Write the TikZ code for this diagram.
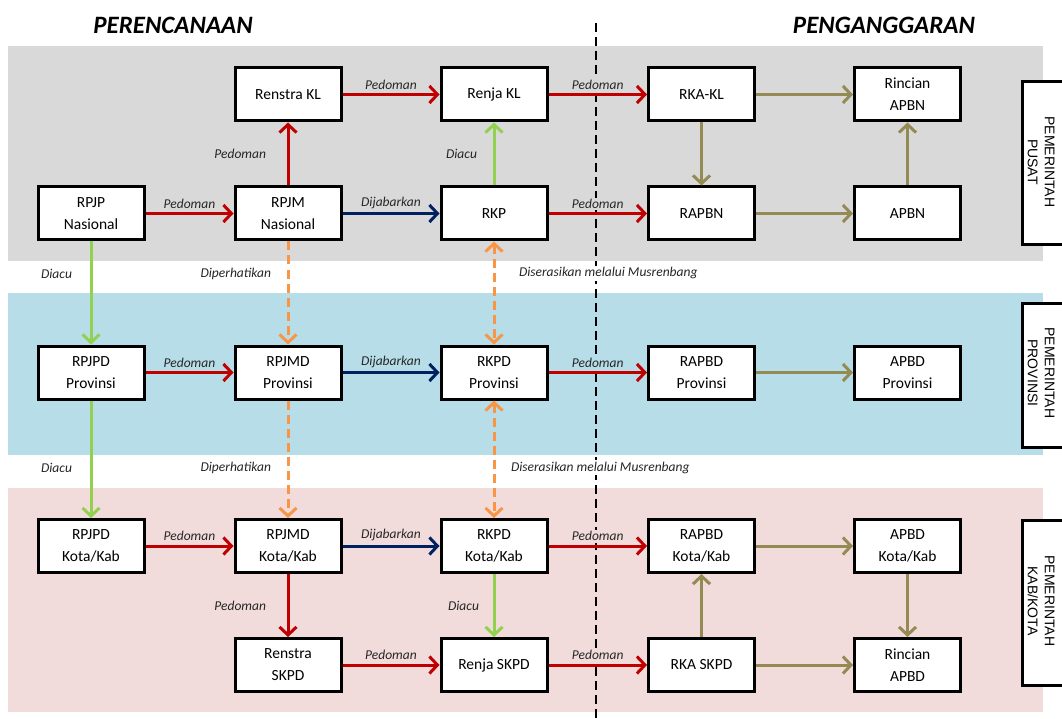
\documentclass[tikz,border=0pt]{standalone}
\usepackage{fontspec}
\setmainfont{Carlito}
\newfontfamily\arialfont{Liberation Sans}
\usetikzlibrary{arrows.meta,positioning}
\definecolor{bandgray}{RGB}{217,217,217}
\definecolor{bandblue}{RGB}{183,222,232}
\definecolor{bandpink}{RGB}{242,220,219}
\definecolor{redarrow}{RGB}{192,0,0}
\definecolor{navyarrow}{RGB}{0,32,96}
\definecolor{greenarrow}{RGB}{146,208,80}
\definecolor{orangearrow}{RGB}{247,150,70}
\definecolor{olivearrow}{RGB}{148,138,84}
\begin{document}
\begin{tikzpicture}[x=1pt,y=-1pt,
  box/.style={draw=black,line width=3pt,fill=white,minimum width=106pt,minimum height=53pt,
    align=center,inner sep=0pt,font=\fontsize{15.5}{22}\selectfont},
  lbl/.style={font=\fontsize{13.5}{16}\selectfont\itshape,inner sep=1.5pt,text=black!85},
  tip/.style={-{Straight Barb[length=8pt,width=17pt]}},
  pedoman/.style={tip,line width=3pt,draw=redarrow},
  jabar/.style={tip,line width=3pt,draw=navyarrow},
  diacu/.style={tip,line width=3pt,draw=greenarrow},
  olive/.style={tip,line width=3pt,draw=olivearrow},
  perhati/.style={tip,line width=3pt,draw=orangearrow,dash pattern=on 9pt off 5pt},
  serasi/.style={perhati,{Straight Barb[length=8pt,width=17pt]}-{Straight Barb[length=8pt,width=17pt]}},
  sidebox/.style={draw=black,line width=3pt,fill=white},
  sidetext/.style={rotate=-90,align=center,font=\arialfont\fontsize{14}{17}\selectfont}]
\useasboundingbox (0,0) rectangle (1062,719);

%Bands
\fill[bandgray] (8,46) rectangle (1043,261);
\fill[bandblue] (8,293) rectangle (1043,455);
\fill[bandpink] (8,488) rectangle (1043,712);

%Divider
\draw[line width=2pt,dash pattern=on 9pt off 5pt] (596,23) -- (596,719);

% Titles
\node (perencanaan) at (173,25) {\fontsize{25}{30}\selectfont\bfseries\itshape PERENCANAAN};
\node (penganggaran) at (884,25) {\fontsize{25}{30}\selectfont\bfseries\itshape PENGANGGARAN};

% Side labels
\draw[sidebox] (1022,82) rectangle (1080,245);
\node[sidetext] (pusat) at (1041,162) {PEMERINTAH\\PUSAT};
\draw[sidebox] (1022,303) rectangle (1080,447);
\node[sidetext] (prov) at (1041,373) {PEMERINTAH\\PROVINSI};
\draw[sidebox] (1022,520) rectangle (1080,685);
\node[sidetext] (kab) at (1041,601) {PEMERINTAH\\KAB/KOTA};

% Pusat
\node[box] (renstrakl) at (288,94.5) {Renstra KL};
\node[box] (renjakl) at (494,94.5) {Renja KL};
\node[box] (rkakl) at (701.5,94.5) {RKA-KL};
\node[box] (rincianapbn) at (907.5,94.5) {Rincian\\APBN};
\node[box] (rpjp) at (91,213.5) {RPJP\\Nasional};
\node[box] (rpjm) at (288,213.5) {RPJM\\Nasional};
\node[box] (rkp) at (494,213.5) {RKP};
\node[box] (rapbn) at (701.5,213.5) {RAPBN};
\node[box] (apbn) at (907.5,213.5) {APBN};

% Provinsi
\node[box] (rpjpdprov) at (91,372.5) {RPJPD\\Provinsi};
\node[box] (rpjmdprov) at (288,372.5) {RPJMD\\Provinsi};
\node[box] (rkpdprov) at (494,372.5) {RKPD\\Provinsi};
\node[box] (rapbdprov) at (701.5,372.5) {RAPBD\\Provinsi};
\node[box] (apbdprov) at (907.5,372.5) {APBD\\Provinsi};

% Kota/Kab
\node[box] (rpjpdkab) at (91,546) {RPJPD\\Kota/Kab};
\node[box] (rpjmdkab) at (288,546) {RPJMD\\Kota/Kab};
\node[box] (rkpdkab) at (494,546) {RKPD\\Kota/Kab};
\node[box] (rapbdkab) at (701.5,546) {RAPBD\\Kota/Kab};
\node[box] (apbdkab) at (907.5,546) {APBD\\Kota/Kab};
\node[box] (renstraskpd) at (288,665) {Renstra\\SKPD};
\node[box] (renjaskpd) at (494,665) {Renja SKPD};
\node[box] (rkaskpd) at (701.5,665) {RKA SKPD};
\node[box] (rincianapbd) at (907.5,665) {Rincian\\APBD};

%Arrows pusat
\draw[pedoman] (renstrakl) -- node[lbl,above=2pt]{Pedoman} (renjakl);
\draw[pedoman] (renjakl) -- node[lbl,above=2pt,fill=bandgray]{Pedoman} (rkakl);
\draw[olive] (rkakl) -- (rincianapbn);
\draw[pedoman] (rpjp) -- node[lbl,above=2pt]{Pedoman} (rpjm);
\draw[jabar] (rpjm) -- node[lbl,above=2pt]{Dijabarkan} (rkp);
\draw[pedoman] (rkp) -- node[lbl,above=2pt,fill=bandgray]{Pedoman} (rapbn);
\draw[olive] (rapbn) -- (apbn);
\draw[pedoman] (rpjm) -- node[lbl,left=19pt]{Pedoman} (renstrakl);
\draw[diacu] (rkp) -- node[lbl,left=14pt]{Diacu} (renjakl);
\draw[olive] (rkakl) -- (rapbn);
\draw[olive] (apbn) -- (rincianapbn);

%Arrows pusat - provinsi
\draw[diacu] (rpjp) -- node[lbl,pos=0.31,left=16pt]{Diacu} (rpjpdprov);
\draw[perhati] (rpjm) -- node[lbl,pos=0.31,left=14pt]{Diperhatikan} (rpjmdprov);
\draw[serasi] (rkp) -- node[lbl,pos=0.31,right=22pt,fill=white]{Diserasikan melalui Musrenbang} (rkpdprov);

%Arrows provinsi
\draw[pedoman] (rpjpdprov) -- node[lbl,above=2pt]{Pedoman} (rpjmdprov);
\draw[jabar] (rpjmdprov) -- node[lbl,above=2pt]{Dijabarkan} (rkpdprov);
\draw[pedoman] (rkpdprov) -- node[lbl,above=2pt,fill=bandblue]{Pedoman} (rapbdprov);
\draw[olive] (rapbdprov) -- (apbdprov);

%Arrows provinsi - kota/kab
\draw[diacu] (rpjpdprov) -- node[lbl,pos=0.57,left=16pt]{Diacu} (rpjpdkab);
\draw[perhati] (rpjmdprov) -- node[lbl,pos=0.57,left=14pt]{Diperhatikan} (rpjmdkab);
\draw[serasi] (rkpdprov) -- node[lbl,pos=0.57,right=14pt,fill=white]{Diserasikan melalui Musrenbang} (rkpdkab);

%Arrows kota/kab
\draw[pedoman] (rpjpdkab) -- node[lbl,above=2pt]{Pedoman} (rpjmdkab);
\draw[jabar] (rpjmdkab) -- node[lbl,above=2pt]{Dijabarkan} (rkpdkab);
\draw[pedoman] (rkpdkab) -- node[lbl,above=2pt,fill=bandpink]{Pedoman} (rapbdkab);
\draw[olive] (rapbdkab) -- (apbdkab);
\draw[pedoman] (rpjmdkab) -- node[lbl,left=19pt]{Pedoman} (renstraskpd);
\draw[diacu] (rkpdkab) -- node[lbl,left=12pt]{Diacu} (renjaskpd);
\draw[olive] (apbdkab) -- (rincianapbd);
\draw[olive] (rkaskpd) -- (rapbdkab);
\draw[pedoman] (renstraskpd) -- node[lbl,above=2pt]{Pedoman} (renjaskpd);
\draw[pedoman] (renjaskpd) -- node[lbl,above=2pt,fill=bandpink]{Pedoman} (rkaskpd);
\draw[olive] (rkaskpd) -- (rincianapbd);
\end{tikzpicture}
\end{document}
